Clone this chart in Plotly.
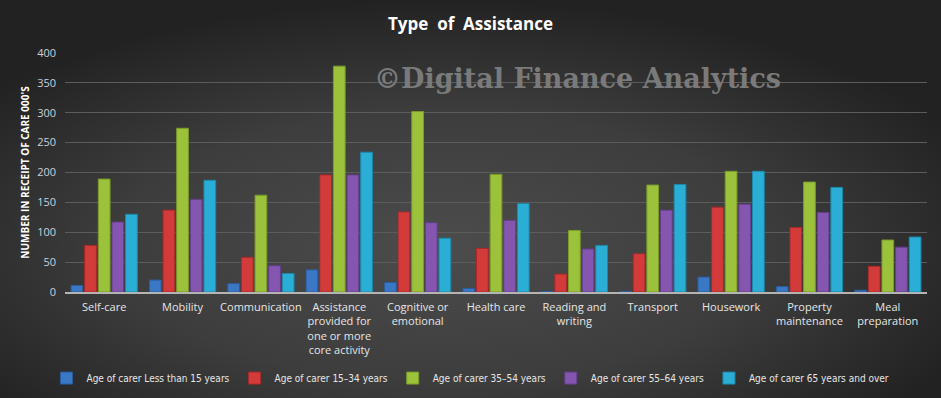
import base64
import plotly.graph_objects as go

categories = ["Self-care", "Mobility", "Communication",
              "Assistance<br>provided for<br>one or more<br>core activity",
              "Cognitive or<br>emotional", "Health care", "Reading and<br>writing",
              "Transport", "Housework", "Property<br>maintenance", "Meal<br>preparation"]

less_than_15 = [11, 20, 14, 37, 16, 6, 1, 1, 25, 9, 3]
age_15_34 = [78, 137, 58, 196, 134, 73, 30, 64, 142, 108, 43]
age_35_54 = [189, 274, 162, 378, 302, 197, 103, 179, 202, 184, 87]
age_55_64 = [117, 155, 44, 196, 116, 120, 72, 137, 147, 133, 75]
age_65_over = [130, 187, 31, 234, 90, 148, 78, 180, 202, 175, 92]

series_names = ["Age of carer Less than 15 years", "Age of carer 15\u201334 years",
                "Age of carer 35\u201354 years", "Age of carer 55\u201364 years",
                "Age of carer 65 years and over"]
series_values = [less_than_15, age_15_34, age_35_54, age_55_64, age_65_over]
colors = ["#3a78c6", "#d33b3b", "#9cc23b", "#8456b0", "#2aaed6"]
edge = ["#2a5c9c", "#a52a2a", "#7a9a2a", "#643e8a", "#1e88a8"]

y_ticks = [0, 50, 100, 150, 200, 250, 300, 350, 400]

fig = go.Figure()
for name, vals, c, e in zip(series_names, series_values, colors, edge):
    fig.add_trace(go.Bar(x=categories, y=vals, name=name,
                         marker=dict(color=c, line=dict(color=e, width=1))))

svg = ('<svg xmlns="http://www.w3.org/2000/svg" width="941" height="398">'
       '<defs><radialGradient id="g" cx="0.47" cy="0.62" r="0.62" gradientUnits="objectBoundingBox">'
       '<stop offset="0" stop-color="#4c4c4c"/><stop offset="0.55" stop-color="#3d3d3d"/>'
       '<stop offset="1" stop-color="#222222"/></radialGradient></defs>'
       '<rect width="941" height="398" fill="url(#g)"/></svg>')
bg = "data:image/svg+xml;base64," + base64.b64encode(svg.encode()).decode()

legend_font = "Liberation Sans Narrow, DejaVu Sans Condensed, Roboto, sans-serif"

fig.update_layout(
    width=941, height=398,
    margin=dict(l=65, r=14, t=53, b=106, autoexpand=False),
    paper_bgcolor="#3a3a3a",
    plot_bgcolor="rgba(0,0,0,0)",
    barmode="group", bargap=0.13, bargroupgap=0.14,
    font=dict(family="Open Sans", color="#e6e6e6", size=11),
    title=dict(text="<b>Type  of  Assistance</b>", x=0.5, xanchor="center",
               y=0.94, yanchor="middle",
               font=dict(family="Open Sans", size=17, color="#ffffff")),
    images=[dict(source=bg, xref="paper", yref="paper", x=-65/862, y=1 + 53/239,
                 sizex=941/862, sizey=398/239, xanchor="left", yanchor="top",
                 sizing="stretch", layer="below")],
    xaxis=dict(showline=True, linecolor="#b4b4b4", linewidth=1.5, ticks="",
               tickfont=dict(color="#e6e6e6", size=11), showgrid=False,
               ticklabelstandoff=4),
    yaxis=dict(range=[0, 400], tickvals=y_ticks, showgrid=True, gridcolor="#5c5c5c",
               gridwidth=1, zeroline=False, tickfont=dict(color="#c8d2dc", size=11),
               ticks="", ticklabelstandoff=8,
               title=dict(text="<b>NUMBER IN RECEIPT OF CARE 000'S</b>",
                          font=dict(size=10, color="#ffffff"), standoff=5)),
    legend=dict(orientation="h", xref="container", yref="container",
                x=0.5, xanchor="center", y=0.05, yanchor="middle",
                font=dict(family=legend_font, size=10, color="#e6e6e6"),
                itemwidth=30, bgcolor="rgba(0,0,0,0)", traceorder="normal"),
    annotations=[dict(text="<b>\u00a9Digital Finance Analytics</b>", xref="paper", yref="paper",
                      x=0.594, y=0.895, xanchor="center", yanchor="middle", showarrow=False,
                      font=dict(family="DejaVu Serif", size=27, color="#7a7a7a"))],
)

fig.write_html("out.html", config={"displayModeBar": False},
               post_script="document.body.style.margin='0';document.body.style.overflow='hidden';")
